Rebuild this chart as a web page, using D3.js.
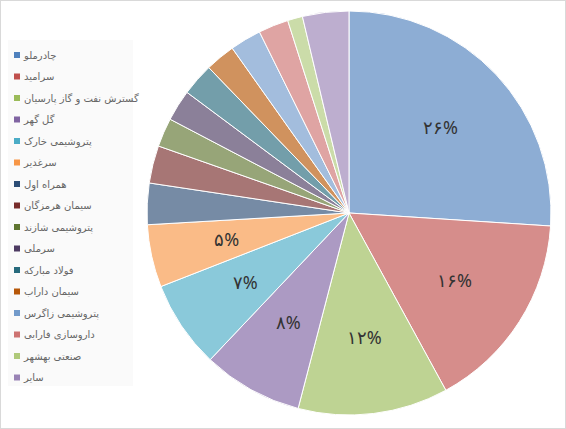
<!DOCTYPE html>
<html><head><meta charset="utf-8">
<script src="https://cdn.jsdelivr.net/npm/d3@7"></script>
<style>body{margin:0;background:#fff}</style></head>
<body><div id="chart"></div>
<script>
let names = ["چادرملو","سرامید","گسترش نفت و گاز پارسیان","گل گهر","پتروشیمی خارک","سرغدیر","همراه اول","سیمان هرمزگان","پتروشیمی شازند","سرملی","فولاد مبارکه","سیمان داراب","پتروشیمی زاگرس","داروسازی فارابی","صنعتی بهشهر","سایر"];
let values = [26,16,12,8,7,5,3.3,3,2.3,2.5,2.6,2.4,2.5,2.4,1.2,3.7];
let labels = ["۲۶%","۱۶%","۱۲%","۸%","۷%","۵%"];
let colors = ["#4F81BD","#C0504D","#9BBB59","#8064A2","#4BACC6","#F79646","#2C4D75","#772C2A","#5F7530","#4D3B62","#276A7C","#B65708","#729ACA","#CD7371","#AFC97A","#9983B5"];

let width = 566, height = 429, cx = 349, cy = 213, radius = 202;

let svg = d3.select("#chart").append("svg").attr("width", width).attr("height", height);
svg.append("rect").attr("x",0.5).attr("y",0.5).attr("width",width-1).attr("height",height-1)
  .attr("fill","#fff").attr("stroke","#d9d9d9");

let defs = svg.append("defs");
colors.forEach(function(c, i) {
  let g = defs.append("radialGradient").attr("id","g"+i)
    .attr("gradientUnits","userSpaceOnUse").attr("cx",cx).attr("cy",cy).attr("r",radius);
  g.append("stop").attr("offset","0%").attr("stop-color", c);
  g.append("stop").attr("offset","100%").attr("stop-color", d3.interpolateRgb(c, "#fff")(0.35));
});

let pie = d3.pie().sort(null).value(function(d){ return d; });
let arc = d3.arc().outerRadius(radius).innerRadius(0);
let labelArc = d3.arc().outerRadius(radius*0.62).innerRadius(radius*0.62);

let g = svg.append("g").attr("transform","translate(" + cx + "," + cy + ")");
let arcs = pie(values);
g.selectAll("path").data(arcs).enter().append("path")
  .attr("d", arc)
  .attr("fill", function(d, i){ return "url(#g"+i+")"; })
  .attr("stroke","#fff").attr("stroke-width",1);

g.selectAll("text").data(arcs.slice(0, labels.length)).enter().append("text")
  .attr("transform", function(d){ return "translate(" + labelArc.centroid(d) + ")"; })
  .attr("text-anchor","middle").attr("dy","0.35em")
  .attr("font-family","Noto Sans, sans-serif").attr("font-size",18).attr("fill","#333")
  .text(function(d, i){ return labels[i]; });

// legend
let leg = svg.append("g");
leg.append("rect").attr("x",8).attr("y",40).attr("width",125).attr("height",346).attr("fill","#fafafa");
let item = leg.selectAll(".item").data(names).enter().append("g")
  .attr("transform", function(d, i){ return "translate(0," + (55 + i*21.5) + ")"; });
item.append("rect").attr("x",14).attr("y",-3).attr("width",6).attr("height",6)
  .attr("fill", function(d, i){ return colors[i]; });
item.append("text").attr("x",24).attr("dy","0.35em")
  .attr("font-family","DejaVu Sans, sans-serif").attr("font-size",10).attr("fill","#666")
  .attr("direction","rtl").attr("text-anchor","end")
  .text(function(d){ return d; });
</script></body></html>
